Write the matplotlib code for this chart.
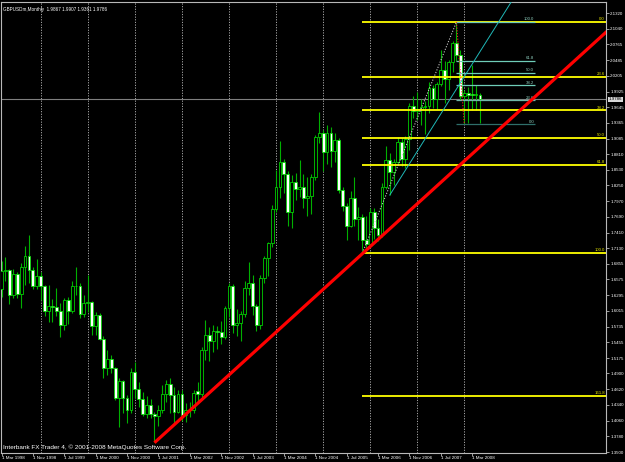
import matplotlib
matplotlib.use("Agg")
import matplotlib.pyplot as plt
from matplotlib.patches import Rectangle
from matplotlib.transforms import blended_transform_factory

# ---------------- data ----------------
symbol_title = "GBPUSDm,Monthly  1.9867 1.9907 1.9361 1.9786"
copyright_text = "Interbank FX Trader 4, \u00a9 2001-2008 MetaQuotes Software Corp."

# monthly bars Mar 1998 .. May 2008
opens = [1.640, 1.672, 1.674, 1.630, 1.667, 1.631, 1.680, 1.699, 1.674, 1.646,
         1.664, 1.645, 1.602, 1.610, 1.609, 1.601, 1.576, 1.621, 1.602, 1.646,
         1.645, 1.596, 1.615, 1.617, 1.575, 1.594, 1.552, 1.499, 1.515, 1.499,
         1.446, 1.477, 1.446, 1.425, 1.492, 1.462, 1.444, 1.417, 1.434, 1.418,
         1.415, 1.425, 1.453, 1.472, 1.452, 1.421, 1.453, 1.416, 1.424, 1.425,
         1.458, 1.453, 1.532, 1.558, 1.548, 1.566, 1.563, 1.555, 1.607, 1.645,
         1.577, 1.580, 1.596, 1.643, 1.651, 1.611, 1.577, 1.661, 1.696, 1.722,
         1.783, 1.823, 1.867, 1.845, 1.777, 1.832, 1.818, 1.822, 1.802, 1.807,
         1.841, 1.912, 1.918, 1.885, 1.919, 1.887, 1.906, 1.817, 1.788, 1.753,
         1.802, 1.765, 1.768, 1.728, 1.720, 1.778, 1.750, 1.737, 1.823, 1.870,
         1.849, 1.867, 1.903, 1.872, 1.908, 1.966, 1.957, 1.961, 1.965, 1.967,
         1.999, 1.979, 2.006, 2.030, 2.014, 2.045, 2.079, 2.057, 1.984, 1.989,
         1.987, 1.986, 1.9867]
highs = [1.690, 1.698, 1.677, 1.677, 1.671, 1.686, 1.718, 1.737, 1.680, 1.694,
         1.671, 1.648, 1.648, 1.623, 1.643, 1.616, 1.624, 1.627, 1.654, 1.679,
         1.651, 1.630, 1.665, 1.619, 1.600, 1.597, 1.556, 1.531, 1.522, 1.502,
         1.481, 1.478, 1.452, 1.499, 1.510, 1.475, 1.457, 1.450, 1.444, 1.422,
         1.434, 1.469, 1.478, 1.481, 1.466, 1.460, 1.460, 1.438, 1.440, 1.460,
         1.475, 1.538, 1.585, 1.572, 1.576, 1.574, 1.583, 1.611, 1.651, 1.650,
         1.604, 1.602, 1.654, 1.689, 1.665, 1.613, 1.665, 1.700, 1.725, 1.790,
         1.853, 1.905, 1.872, 1.850, 1.843, 1.848, 1.870, 1.846, 1.841, 1.846,
         1.915, 1.956, 1.924, 1.933, 1.930, 1.919, 1.909, 1.823, 1.793, 1.816,
         1.840, 1.787, 1.775, 1.770, 1.785, 1.785, 1.765, 1.830, 1.896, 1.883,
         1.872, 1.911, 1.910, 1.913, 1.972, 1.985, 1.991, 1.980, 1.975, 2.010,
         2.004, 2.009, 2.066, 2.047, 2.048, 2.082, 2.1164, 2.066, 1.995, 2.000,
         2.040, 2.004, 1.9907]
lows = [1.626, 1.654, 1.614, 1.624, 1.624, 1.607, 1.648, 1.651, 1.640, 1.640,
        1.621, 1.592, 1.582, 1.582, 1.592, 1.555, 1.567, 1.579, 1.597, 1.630,
        1.588, 1.591, 1.600, 1.559, 1.559, 1.550, 1.481, 1.487, 1.490, 1.443,
        1.395, 1.419, 1.401, 1.420, 1.446, 1.431, 1.414, 1.410, 1.410, 1.367,
        1.396, 1.419, 1.440, 1.419, 1.401, 1.419, 1.405, 1.404, 1.412, 1.419,
        1.440, 1.448, 1.514, 1.513, 1.529, 1.534, 1.542, 1.551, 1.591, 1.562,
        1.556, 1.547, 1.590, 1.630, 1.594, 1.565, 1.570, 1.652, 1.664, 1.716,
        1.778, 1.802, 1.812, 1.753, 1.750, 1.800, 1.804, 1.784, 1.770, 1.775,
        1.835, 1.900, 1.850, 1.864, 1.858, 1.867, 1.811, 1.780, 1.728, 1.751,
        1.752, 1.728, 1.7046, 1.710, 1.717, 1.730, 1.726, 1.733, 1.818, 1.808,
        1.826, 1.861, 1.860, 1.856, 1.888, 1.945, 1.942, 1.932, 1.916, 1.954,
        1.963, 1.961, 2.003, 1.972, 1.996, 2.027, 2.046, 1.977, 1.934, 1.936,
        1.959, 1.959, 1.9361]
closes = [1.672, 1.674, 1.630, 1.667, 1.631, 1.680, 1.699, 1.674, 1.646, 1.664,
          1.645, 1.602, 1.610, 1.609, 1.601, 1.576, 1.621, 1.602, 1.646, 1.645,
          1.596, 1.615, 1.617, 1.575, 1.594, 1.552, 1.499, 1.515, 1.499, 1.446,
          1.477, 1.446, 1.425, 1.492, 1.462, 1.444, 1.417, 1.434, 1.418, 1.415,
          1.425, 1.453, 1.472, 1.452, 1.421, 1.453, 1.416, 1.424, 1.425, 1.456,
          1.453, 1.532, 1.558, 1.548, 1.566, 1.563, 1.555, 1.607, 1.645, 1.577,
          1.580, 1.596, 1.643, 1.651, 1.611, 1.577, 1.661, 1.696, 1.722, 1.783,
          1.823, 1.867, 1.845, 1.777, 1.832, 1.818, 1.822, 1.802, 1.807, 1.841,
          1.912, 1.918, 1.885, 1.919, 1.887, 1.906, 1.817, 1.788, 1.753, 1.802,
          1.765, 1.768, 1.728, 1.720, 1.778, 1.750, 1.737, 1.823, 1.870, 1.849,
          1.867, 1.903, 1.872, 1.908, 1.966, 1.957, 1.961, 1.965, 1.967, 1.999,
          1.979, 2.006, 2.030, 2.014, 2.045, 2.079, 2.057, 1.984, 1.989, 1.987,
          1.986, 1.987, 1.9786]

bid_price = 1.9786
bid_label = "1.9786"

time_tick_bars = [0, 8, 16, 24, 32, 40, 48, 56, 64, 72, 80, 88, 96, 104, 112, 120]
time_tick_labels = ["1 Mar 1998", "1 Nov 1998", "1 Jul 1999", "1 Mar 2000",
                    "1 Nov 2000", "1 Jul 2001", "1 Mar 2002", "1 Nov 2002",
                    "1 Jul 2003", "1 Mar 2004", "1 Nov 2004", "1 Jul 2005",
                    "1 Mar 2006", "1 Nov 2006", "1 Jul 2007", "1 Mar 2008"]
year_grid_bars = [10, 22, 34, 46, 58, 70, 82, 94, 106, 118]

price_tick_labels = ["1.3500", "1.3780", "1.4060", "1.4340", "1.4620", "1.4900",
                     "1.5175", "1.5455", "1.5735", "1.6015", "1.6295", "1.6575",
                     "1.6855", "1.7130", "1.7410", "1.7690", "1.7970", "1.8250",
                     "1.8530", "1.8810", "1.9085", "1.9365", "1.9645", "1.9925",
                     "2.0205", "2.0485", "2.0765", "2.1040", "2.1320"]

# big Fibonacci (yellow): anchor low / high
fib1_low_bar, fib1_low = 92, 1.7046
fib1_high_bar, fib1_high = 116, 2.1164
fib1_levels = [0.0, 23.6, 38.2, 50.0, 61.8, 100.0, 161.8]

# small Fibonacci (teal): high -> low
fib2_high_bar, fib2_high = 116, 2.1164
fib2_low_bar, fib2_low = 118, 1.934
fib2_end_bar = 136
fib2_levels = [0.0, 23.6, 38.2, 50.0, 61.8, 100.0]

# red trend line anchors
trend_bars = [39, 122]
trend_prices = [1.3666, 1.894]
# cyan line anchors
cyan_bars = [99, 124]
cyan_prices = [1.808, 2.0858]

# ---------------- layout ----------------
W, H = 625, 462
fig = plt.figure(figsize=(W / 100, H / 100), dpi=100, facecolor="black")
left_px, right_px, top_px, bot_px = 1, 606, 2, 453
ax = fig.add_axes([left_px / W, 1 - bot_px / H, (right_px - left_px) / W, (bot_px - top_px) / H])
ax.set_facecolor("black")

FONT = ["Liberation Sans Narrow", "Liberation Sans", "DejaVu Sans"]
renderer = fig.canvas.get_renderer()


def fit_size(s, target_px, base=10.0):
    t = fig.text(0, 0, s, fontsize=base, family=FONT)
    w = t.get_window_extent(renderer=renderer).width
    t.remove()
    return base * target_px / w


fs_price = fit_size("1.7130", 13.5)
fs_time = fit_size("1 Mar 1998", 22.5)
fs_title = fit_size(symbol_title, 104)
fs_copy = fit_size(copyright_text, 183)
fs_fib = fit_size("100.0", 10.5)

bar_px = 3.922
x0_px = 1.5
pp = 0.0017823  # price per pixel
xmin = (left_px - x0_px) / bar_px
xmax = (right_px - x0_px) / bar_px
ymin = 1.35 + (452 - bot_px) * pp
ymax = 1.35 + (452 - top_px) * pp
ax.set_xlim(xmin, xmax)
ax.set_ylim(ymin, ymax)

# vertical dotted grid
for b in year_grid_bars:
    ax.axvline(b, color="#a8a8a8", lw=0.7, ls=(0, (1.2, 1.5)), zorder=1)

# candles
wick_col = "#00b000"
edge_col = "#00e000"
bw = 0.72
for i, (o, h, l, c) in enumerate(zip(opens, highs, lows, closes)):
    ax.vlines(i, l, h, color=wick_col, lw=0.8, zorder=3)
    bull = c >= o
    lo_b, hi_b = (o, c) if bull else (c, o)
    hgt = max(hi_b - lo_b, 0.0012)
    ax.add_patch(Rectangle((i - bw / 2, lo_b), bw, hgt,
                           facecolor="black" if bull else "white",
                           edgecolor=edge_col, lw=0.55, zorder=4))

# bid line
ax.axhline(bid_price, color="#7f7f7f", lw=0.8, zorder=2)

# yellow fib
rng1 = fib1_high - fib1_low
for lv in fib1_levels:
    p = fib1_high - rng1 * lv / 100.0
    ax.hlines(p, fib1_low_bar, xmax, color="#ffff00", lw=1.3, zorder=5)
    ax.text(xmax - 0.3, p + 0.0012, f"{lv:.1f}", color="#e8e800", fontsize=fs_fib,
            family=FONT, ha="right", va="bottom", zorder=6)
ax.plot([fib1_low_bar, fib1_high_bar], [fib1_low, fib1_high], color="#c8c8c8",
        lw=0.8, ls=(0, (1, 1.5)), zorder=6)

# teal fib
rng2 = fib2_high - fib2_low
teal_cols = {0.0: "#2f6f6a", 23.6: "#6fb8aa", 38.2: "#6fcdb8", 50.0: "#6fcdb8",
             61.8: "#6fcdb8", 100.0: "#6fcdb8"}
for lv in fib2_levels:
    p = fib2_low + rng2 * lv / 100.0
    ax.hlines(p, fib2_high_bar, fib2_end_bar, color=teal_cols[lv], lw=0.9, zorder=5)
    ax.text(fib2_end_bar - 0.2, p + 0.0012, f"{lv:.1f}", color="#8fd0c0", fontsize=fs_fib,
            family=FONT, ha="right", va="bottom", zorder=6)
ax.plot([fib2_high_bar, fib2_low_bar], [fib2_high, fib2_low], color="#ff2020",
        lw=0.8, ls=(0, (1, 1.5)), zorder=6)

# red trend line (ray)
slope = (trend_prices[1] - trend_prices[0]) / (trend_bars[1] - trend_bars[0])
ax.plot([trend_bars[0], xmax + 5],
        [trend_prices[0], trend_prices[0] + slope * (xmax + 5 - trend_bars[0])],
        color="#ff0000", lw=2.3, solid_capstyle="butt", zorder=7)

# cyan line (ray)
cs = (cyan_prices[1] - cyan_prices[0]) / (cyan_bars[1] - cyan_bars[0])
ax.plot([cyan_bars[0], xmax + 5],
        [cyan_prices[0], cyan_prices[0] + cs * (xmax + 5 - cyan_bars[0])],
        color="#20b8b8", lw=0.7, zorder=6)

# spines
for s in ax.spines.values():
    s.set_color("#b8b8b8")
    s.set_linewidth(0.8)

# price axis on the right
ax.yaxis.tick_right()
ax.set_yticks([float(t) for t in price_tick_labels])
ax.set_yticklabels(price_tick_labels)
ax.tick_params(axis="y", colors="#b8b8b8", length=2, width=0.6, pad=1.0,
               labelsize=fs_price, labelcolor="white")
for t in ax.get_yticklabels():
    t.set_family(FONT)

# time axis
ax.set_xticks(time_tick_bars)
ax.set_xticklabels(time_tick_labels)
ax.tick_params(axis="x", colors="#b8b8b8", length=2, width=0.6, pad=0.3,
               labelsize=fs_time, labelcolor="white")
for t in ax.get_xticklabels():
    t.set_family(FONT)
    t.set_ha("left")

# bid price label
trans = blended_transform_factory(ax.transAxes, ax.transData)
ax.text(1.0 + 3 / (right_px - left_px), bid_price, bid_label, transform=trans,
        fontsize=fs_price, family=FONT, color="black", ha="left", va="center",
        bbox=dict(boxstyle="square,pad=0.12", facecolor="#d8d8d8", edgecolor="none"),
        zorder=10, clip_on=False)

# texts
fig.text(3 / W, 1 - 9 / H, symbol_title, color="white", fontsize=fs_title, family=FONT,
         ha="left", va="center")
fig.text(3 / W, 1 - 447 / H, copyright_text, color="white", fontsize=fs_copy, family=FONT,
         ha="left", va="center")

fig.savefig("out.png", dpi=100, facecolor="black")
